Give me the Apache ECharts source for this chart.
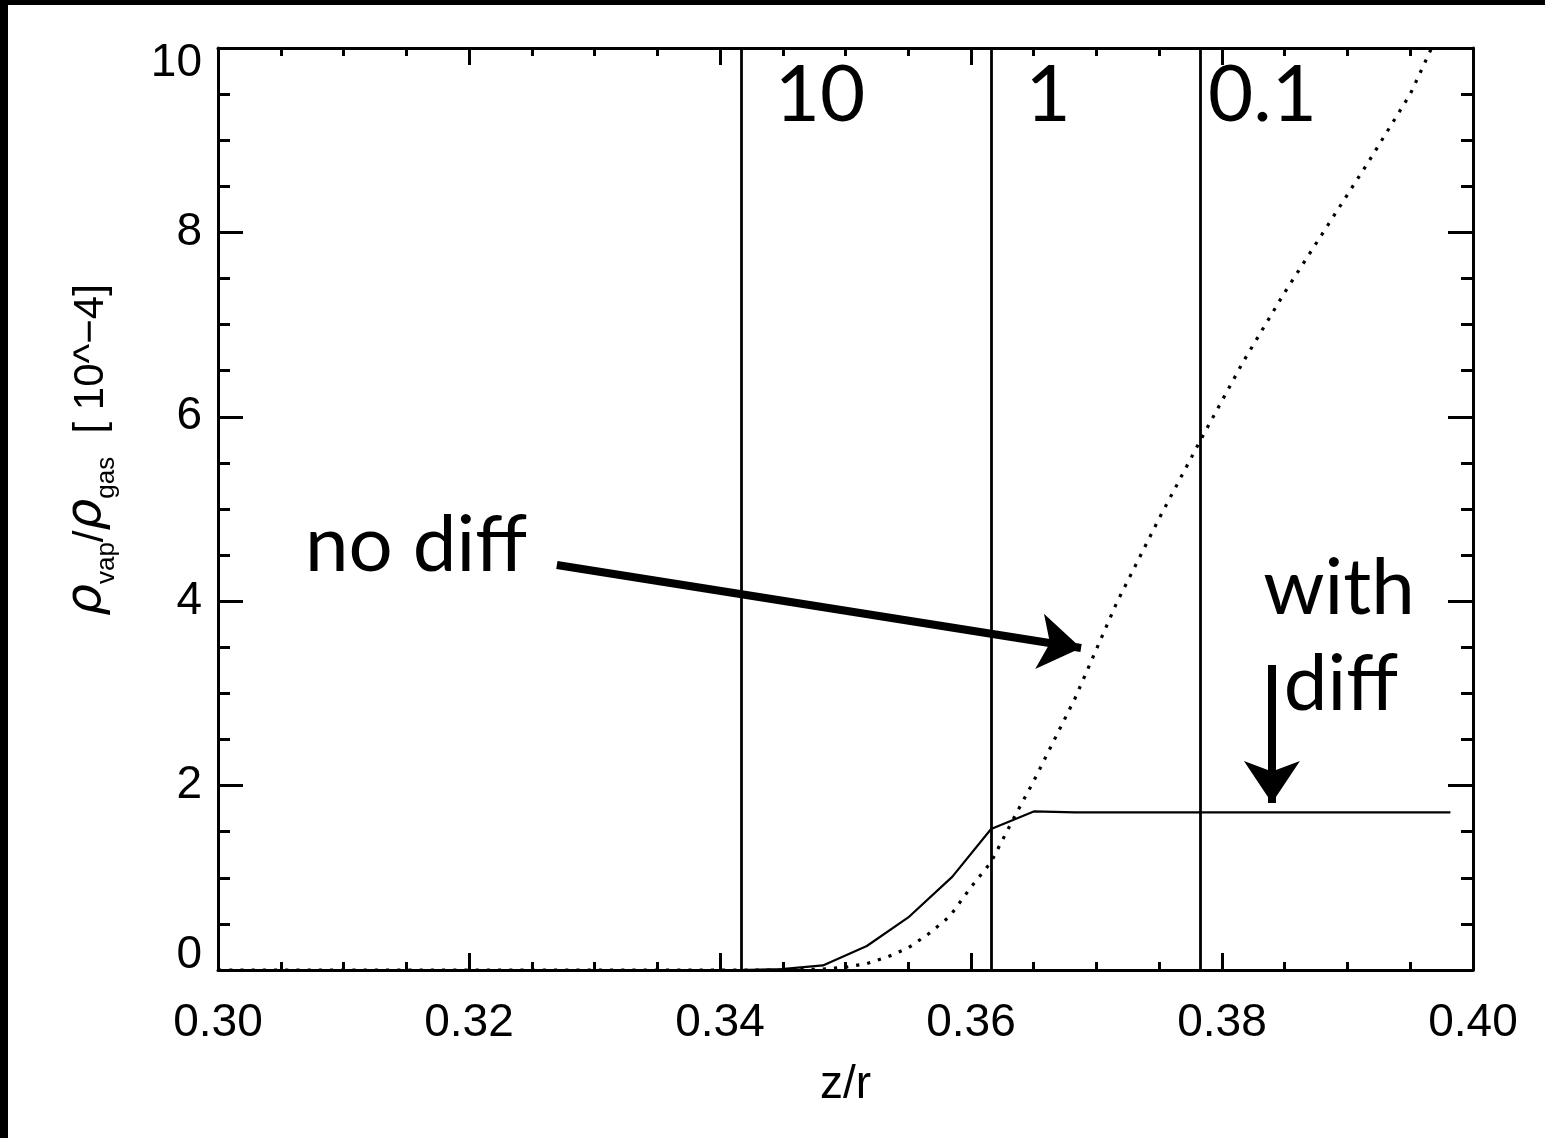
<!DOCTYPE html>
<html><head><meta charset="utf-8">
<script src="https://cdn.jsdelivr.net/npm/echarts@6/dist/echarts.min.js"></script>
<style>
html,body{margin:0;padding:0;background:#fff}
#c{width:1545px;height:1138px;position:absolute;left:0;top:0}
.bt{position:absolute;left:0;top:0;width:1545px;height:5px;background:#000}
.bl{position:absolute;left:0;top:0;width:8px;height:1138px;background:#000}
</style>
</head><body><div id="c"></div><div class="bt"></div><div class="bl"></div>
<script>
// ---- data ----
const xTickLabels = ['0.30','0.32','0.34','0.36','0.38','0.40'];
const yTickLabels = ['0','2','4','6','8','10'];

const withDiffX = [0.3000, 0.3415, 0.3449, 0.3482, 0.3517, 0.3550, 0.3585, 0.3616, 0.3650, 0.3683, 0.3982];
const withDiffY = [0.00,   0.00,   0.01,   0.05,   0.26,   0.57,   1.01,   1.53,   1.72,   1.71,   1.71];

const noDiffX = [0.3000, 0.3449, 0.3482, 0.3500, 0.3517, 0.3533, 0.3550, 0.3566, 0.3583, 0.3600, 0.3616, 0.3633, 0.3650, 0.3683, 0.3716, 0.3750, 0.3783, 0.3817, 0.3850, 0.3883, 0.3916, 0.3950, 0.3967];
const noDiffY = [0.00,   0.00,   0.01,   0.03,   0.07,   0.14,   0.24,   0.39,   0.58,   0.90,   1.17,   1.62,   2.05,   2.95,   3.98,   4.90,   5.75,   6.60,   7.35,   8.05,   8.75,   9.50,   10.0];

const regionX = [0.3417, 0.3616, 0.3783];
const regionLabels = ['10', '1', '0.1'];
const regionLabelX = [0.34797, 0.36614, 0.38323];
const regionLabelY = [9.48, 9.48, 9.48];

const noteText = ['no diff', 'with', 'diff'];
const noteX = [0.31578, 0.38932, 0.38948];
const noteY = [4.60, 4.13, 3.09];

const arrowNoDiff = [[0.3270, 4.393], [0.36877, 3.492]];
const arrowWithDiff = [[0.38398, 3.308], [0.38398, 1.811]];

// ---- chart ----
const chart = echarts.init(document.getElementById('c'), null, {renderer: 'canvas'});
const zip = (xs, ys) => xs.map((x, i) => [x, ys[i]]);
const black = '#000000';
const tickFont = 'Liberation Sans, Arial, sans-serif';
const annFont = 'Lato, "Open Sans", sans-serif';

const xCommon = {
  type: 'value', min: 0.30, max: 0.40, interval: 0.02,
  axisLine: {show: true, onZero: false, lineStyle: {color: black, width: 3}},
  axisTick: {show: true, inside: true, length: 17, lineStyle: {color: black, width: 3}},
  minorTick: {show: true, splitNumber: 4, length: 8, lineStyle: {color: black, width: 3}},
  splitLine: {show: false}, minorSplitLine: {show: false}
};
const yCommon = {
  type: 'value', min: 0, max: 10, interval: 2,
  axisLine: {show: true, onZero: false, lineStyle: {color: black, width: 3}},
  axisTick: {show: true, inside: true, length: 25, lineStyle: {color: black, width: 3}},
  minorTick: {show: true, splitNumber: 4, length: 12, lineStyle: {color: black, width: 3}},
  splitLine: {show: false}, minorSplitLine: {show: false}
};

const annData = regionLabels.map((t, i) => ({value: [regionLabelX[i], regionLabelY[i]], name: t}))
  .concat(noteText.map((t, i) => ({value: [noteX[i], noteY[i]], name: t})));

chart.setOption({
  animation: false,
  backgroundColor: '#fff',
  grid: {left: 218, top: 48, right: 72, bottom: 168, containLabel: false},
  xAxis: [
    Object.assign({}, xCommon, {
      position: 'bottom',
      name: 'z/r', nameLocation: 'middle', nameGap: 92,
      nameTextStyle: {color: black, fontSize: 46, fontFamily: tickFont},
      axisLabel: {show: true, color: black, fontSize: 46, fontFamily: tickFont, margin: 30,
        formatter: v => xTickLabels[Math.round((v - 0.30) / 0.02)]}
    }),
    Object.assign({}, xCommon, {position: 'top', axisLabel: {show: false}})
  ],
  yAxis: [
    Object.assign({}, yCommon, {
      position: 'left',
      name: '{r|ρ}{s|vap}{n|/}{r|ρ}{s|gas}{n|  [ 10^−4]}',
      nameLocation: 'middle', nameGap: 106, nameRotate: 90,
      nameTextStyle: {
        color: black, fontFamily: tickFont, fontSize: 44, padding: [0, 0, 0, 118],
        rich: {
          r: {fontSize: 50, fontStyle: 'italic', fontFamily: 'DejaVu Sans, sans-serif', color: black, verticalAlign: 'bottom'},
          s: {fontSize: 26, fontFamily: tickFont, color: black, verticalAlign: 'bottom', padding: [0, 0, -8, 0]},
          n: {fontSize: 42, fontFamily: tickFont, color: black, verticalAlign: 'bottom'}
        }
      },
      axisLabel: {show: true, color: black, fontSize: 46, lineHeight: 30, fontFamily: tickFont, margin: 16,
        verticalAlignMinLabel: 'bottom', verticalAlignMaxLabel: 'top',
        formatter: v => yTickLabels[Math.round(v / 2)]}
    }),
    Object.assign({}, yCommon, {position: 'right', axisLabel: {show: false}})
  ],
  series: [
    {
      name: 'no diff', type: 'line', data: zip(noDiffX, noDiffY), symbol: 'none', smooth: false,
      lineStyle: {color: black, width: 3.2, type: [3.2, 8], cap: 'butt'}, z: 3
    },
    {
      name: 'with diff', type: 'line', data: zip(withDiffX, withDiffY), symbol: 'none', smooth: false,
      lineStyle: {color: black, width: 2.2}, z: 4,
      markLine: {
        silent: true, symbol: ['none', 'none'], animation: false, precision: 6,
        label: {show: false},
        lineStyle: {color: black, width: 2.8, type: 'solid'},
        data: regionX.map(x => ({xAxis: x}))
      }
    },
    {
      name: 'arrows', type: 'line', data: [], symbol: 'none',
      markLine: {
        silent: true, symbol: ['none', 'arrow'], symbolSize: 42, animation: false, precision: 6,
        label: {show: false},
        lineStyle: {color: black, width: 8, type: 'solid', opacity: 1},
        itemStyle: {color: black, opacity: 1},
        data: [
          [{coord: arrowNoDiff[0]}, {coord: arrowNoDiff[1]}],
          [{coord: arrowWithDiff[0]}, {coord: arrowWithDiff[1]}]
        ]
      }
    },
    {
      name: 'annotations', type: 'scatter', symbolSize: 0, data: annData, silent: true, z: 10,
      itemStyle: {color: black, opacity: 1},
      label: {
        show: true, position: [0, 0], align: 'center', verticalAlign: 'middle',
        formatter: p => '{a|' + p.name + '}',
        rich: {a: {color: black, fontFamily: annFont, fontSize: 78, opacity: 1}}
      }
    }
  ]
});
</script>
</body></html>
